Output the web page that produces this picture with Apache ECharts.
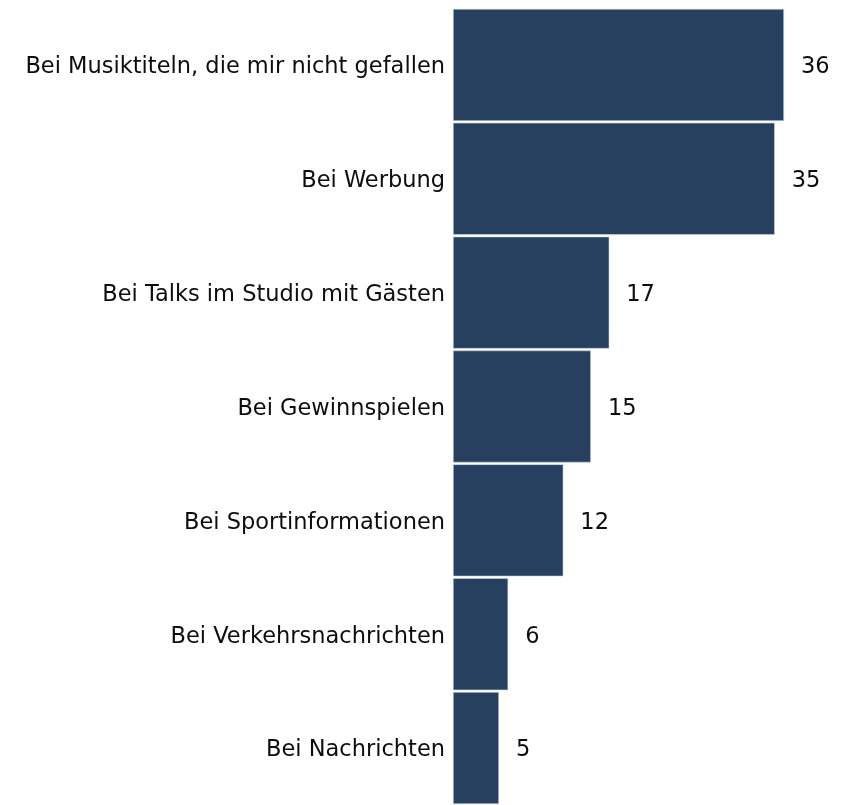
<!DOCTYPE html>
<html>
<head>
<meta charset="utf-8">
<script src="https://cdn.jsdelivr.net/npm/echarts@6/dist/echarts.min.js"></script>
<style>
  html, body { margin: 0; padding: 0; background: #ffffff; }
  #chart { width: 849px; height: 805px; }
</style>
</head>
<body>
<div id="chart"></div>
<script>
// Categories top to bottom and their values
const categories = [
  'Bei Musiktiteln, die mir nicht gefallen',
  'Bei Werbung',
  'Bei Talks im Studio mit Gästen',
  'Bei Gewinnspielen',
  'Bei Sportinformationen',
  'Bei Verkehrsnachrichten',
  'Bei Nachrichten'
];
const values = [36, 35, 17, 15, 12, 6, 5];

const FONT = '"DejaVu Sans", "Liberation Sans", Arial, sans-serif';
const TEXT = { fontSize: 22.5, color: '#0d0d0d', fontFamily: FONT };

const chart = echarts.init(document.getElementById('chart'));
chart.setOption({
  animation: false,
  textStyle: { fontFamily: FONT },
  grid: { left: 453, right: 65, top: 8, bottom: 0, containLabel: false },
  xAxis: {
    type: 'value', min: 0, max: 36,
    show: false
  },
  yAxis: {
    type: 'category',
    data: categories,
    inverse: true,
    axisLine: { show: false },
    axisTick: { show: false },
    axisLabel: Object.assign({
      margin: 8,
      formatter: '{t|{value}}',
      rich: { t: Object.assign({ padding: [5, 0, 0, 0] }, TEXT) }
    }, TEXT)
  },
  series: [{
    type: 'bar',
    data: values,
    barCategoryGap: '1.6%',
    itemStyle: { color: '#27405f', borderColor: '#c9d3de', borderWidth: 0.6 },
    label: Object.assign({
      show: true,
      position: 'right',
      distance: 17,
      offset: [0, 2.5]
    }, TEXT)
  }]
});
</script>
</body>
</html>
